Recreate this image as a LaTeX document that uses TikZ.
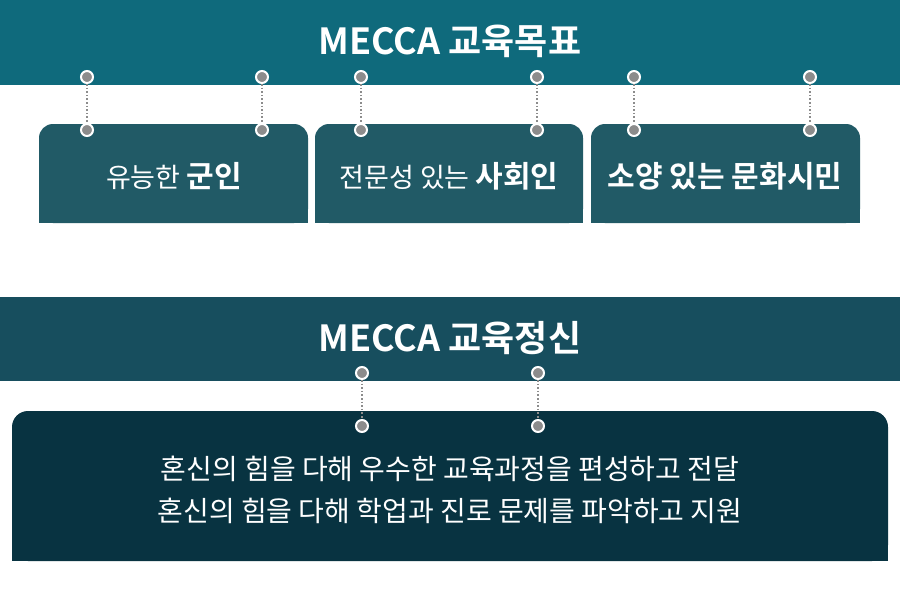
\documentclass[tikz,border=0pt]{standalone}
\usepackage{fontspec}
\setmainfont{Noto Sans CJK KR}
\newfontfamily\krbold{Noto Sans CJK KR Bold}
\definecolor{bannerA}{HTML}{0F6A7C}
\definecolor{bannerB}{HTML}{174E5E}
\definecolor{goalbox}{HTML}{215A66}
\definecolor{spiritbox}{HTML}{083341}
\tikzset{
  pin/.style={circle, fill=gray!90, draw=white, line width=2pt, minimum size=12pt, inner sep=0pt},
  pinline/.style={gray!90, line width=1.6pt, dotted},
  goaltext/.style={text=white, font=\fontsize{27}{30}\selectfont},
}
\newcommand{\goalbold}[1]{{\krbold\fontsize{30}{33}\selectfont #1}}
\begin{document}
\begin{tikzpicture}[x=1pt,y=-1pt]
    \useasboundingbox (0,0) rectangle (900,600);
    \fill[white] (0,0) rectangle (900,600);

    % top banner and goal boxes
    \fill[bannerA] (0,0) rectangle (900,85);
    \node[text=white, font=\krbold\fontsize{36}{40}\selectfont] (goaltitle) at (450,41) {MECCA 교육목표};
    \fill[goalbox, rounded corners=14pt] (39,223) -- (39,124) -- (308,124) -- (308,223) -- cycle;
    \fill[goalbox, rounded corners=14pt] (315,223) -- (315,124) -- (583,124) -- (583,223) -- cycle;
    \fill[goalbox, rounded corners=14pt] (591,223) -- (591,124) -- (860,124) -- (860,223) -- cycle;
    \fill[goalbox] (39,200) rectangle (308,223);
    \fill[goalbox] (315,200) rectangle (583,223);
    \fill[goalbox] (591,200) rectangle (860,223);
    \node[goaltext] (soldier) at (174,176) {유능한 \goalbold{군인}};
    \node[goaltext] (member) at (449,176) {전문성 있는 \goalbold{사회인}};
    \node[goaltext] (citizen) at (725,176) {\goalbold{소양 있는 문화시민}};

    % bottom banner and spirit box
    \fill[bannerB] (0,297) rectangle (900,381);
    \node[text=white, font=\krbold\fontsize{36}{40}\selectfont] (spirittitle) at (450,338) {MECCA 교육정신};
    \fill[spiritbox, rounded corners=16pt] (12,561) -- (12,411) -- (888,411) -- (888,561) -- cycle;
    \fill[spiritbox] (12,540) rectangle (888,561);
    \node[text=white, align=center, font=\fontsize{28}{42}\selectfont] (spirit) at (450,490)
        {혼신의 힘을 다해 우수한 교육과정을 편성하고 전달\\혼신의 힘을 다해 학업과 진로 문제를 파악하고 지원};

    % pins
    \foreach \x [count=\i] in {87,262,361,537,634,810} {
        \node[pin] (ptop\i) at (\x,77) {};
        \node[pin] (pbot\i) at (\x,130) {};
        \draw[pinline] (ptop\i) -- (pbot\i);
    }
    \foreach \x [count=\i] in {362,538} {
        \node[pin] (stop\i) at (\x,373) {};
        \node[pin] (sbot\i) at (\x,426) {};
        \draw[pinline] (stop\i) -- (sbot\i);
    }
\end{tikzpicture}
\end{document}
